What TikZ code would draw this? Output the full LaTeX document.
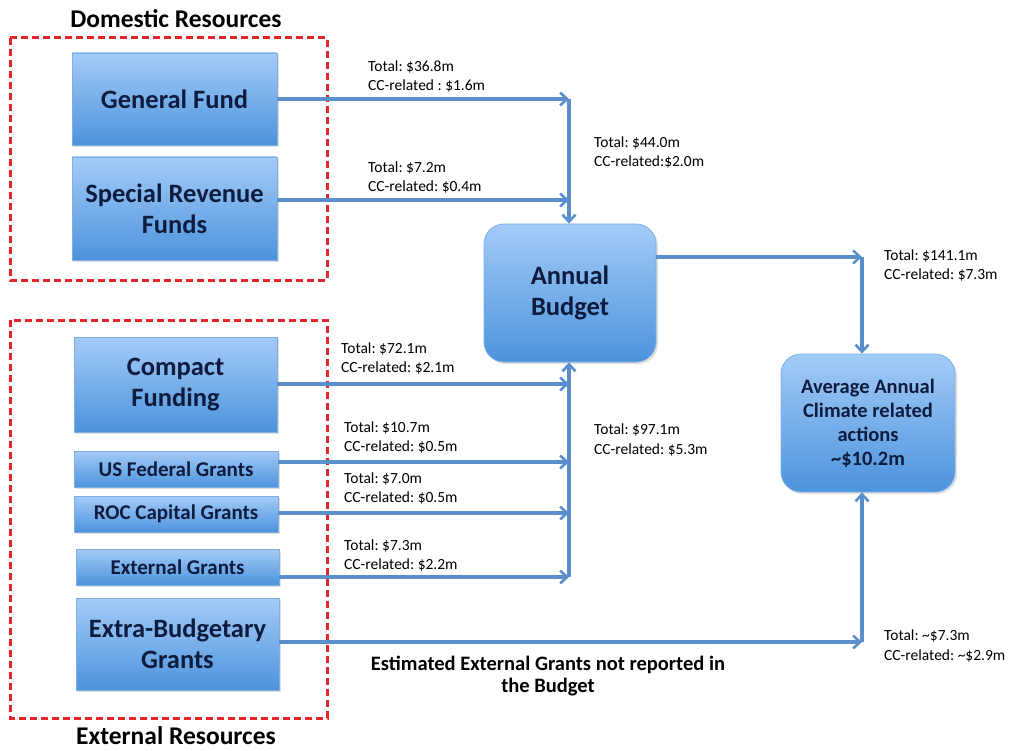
\documentclass[tikz,border=0pt]{standalone}
\usepackage{fontspec}
\setmainfont{Carlito}
\usetikzlibrary{arrows.meta,shadows}
\definecolor{arr}{HTML}{5B8FCB}
\definecolor{boxtop}{HTML}{A4CBF7}
\definecolor{boxbot}{HTML}{4C93DD}
\definecolor{boxline}{HTML}{7FAEE0}
\definecolor{txt}{HTML}{0D1C3E}
\definecolor{dred}{HTML}{E5252A}
\frenchspacing
\begin{document}
\begin{tikzpicture}[x=1pt,y=-1pt,
  fundbox/.style={draw=boxline, line width=0.8pt, top color=boxtop, bottom color=boxbot,
    text=txt, align=center, inner sep=0pt,
    drop shadow={opacity=0.25, shadow xshift=2pt, shadow yshift=-2pt}},
  bigtxt/.style={font=\bfseries\fontsize{26.5}{31}\selectfont},
  smalltxt/.style={font=\bfseries\fontsize{21}{24}\selectfont},
  hubbox/.style={fundbox, rounded corners=20pt},
  group/.style={draw=dred, line width=3pt, dash pattern=on 7pt off 4pt},
  title/.style={font=\bfseries\fontsize{25.5}{30}\selectfont, text=black},
  lbl/.style={anchor=west, align=left, inner sep=0pt, font=\fontsize{15.5}{19.5}\selectfont, text=black},
  flow/.style={draw=arr, line width=3.2pt, -{Straight Barb[length=7pt,width=13pt,line width=2.6pt]}}
]
\useasboundingbox (0,0) rectangle (1014,751);

% groups
\draw[group] (10,38) rectangle (327,280);
\draw[group] (10,320) rectangle (327,718);
\node[title] (tdom) at (176,19) {Domestic Resources};
\node[title] (text) at (176,736) {External Resources};

% source boxes
\node[fundbox, bigtxt, minimum width=205pt, minimum height=92pt] (gf) at (174.5,99) {General Fund};
\node[fundbox, bigtxt, minimum width=205pt, minimum height=103pt] (srf) at (174.5,208.5) {Special Revenue\\Funds};
\node[fundbox, bigtxt, minimum width=203pt, minimum height=95pt] (cf) at (175.5,384.5) {Compact\\Funding};
\node[fundbox, smalltxt, minimum width=204pt, minimum height=36pt] (us) at (176,469) {US Federal Grants};
\node[fundbox, smalltxt, minimum width=204pt, minimum height=36pt] (roc) at (176,514) {ROC Capital Grants};
\node[fundbox, smalltxt, minimum width=203pt, minimum height=36pt] (eg) at (177.5,567) {External Grants};
\node[fundbox, bigtxt, minimum width=203pt, minimum height=92pt] (ebg) at (177.5,644) {Extra-Budgetary\\Grants};

% hubs
\node[hubbox, bigtxt, minimum width=172pt, minimum height=138pt] (ab) at (570,293) {Annual\\Budget};
\node[hubbox, font=\bfseries\fontsize{20.5}{24}\selectfont, minimum width=174pt, minimum height=138pt] (avg) at (868,423) {Average Annual\\Climate related\\actions\\\textasciitilde\$10.2m};

% junctions
\coordinate (j1) at (569,99);
\coordinate (j2) at (569,200);
\coordinate (j3) at (569,384);
\coordinate (j4) at (569,462);
\coordinate (j5) at (569,513);
\coordinate (j6) at (569,577);
\coordinate (k1) at (862,257);
\coordinate (k2) at (862,642);

% upper flows
\draw[flow] (gf.east |- j1) -- (j1);
\draw[flow] (srf.east |- j2) -- (j2);
\draw[flow] (j1) -- (ab.north -| j1);

% lower flows
\draw[flow] (cf.east |- j3) -- (j3);
\draw[flow] (us.east |- j4) -- (j4);
\draw[flow] (roc.east |- j5) -- (j5);
\draw[flow] (eg.east |- j6) -- (j6);
\draw[flow] (j6) -- (ab.south -| j6);

% right side
\draw[flow] (ab.east |- k1) -- (k1);
\draw[flow] (k1) -- (avg.north -| k1);
\draw[flow] (ebg.east |- k2) -- (k2);
\draw[flow] (k2) -- (avg.south -| k2);

% labels
\node[lbl] (l1) at (368,76.5) {Total: \$36.8m\\CC-related : \$1.6m};
\node[lbl] (l2) at (368,177.5) {Total: \$7.2m\\CC-related: \$0.4m};
\node[lbl] (l3) at (594,152.5) {Total: \$44.0m\\CC-related:\$2.0m};
\node[lbl] (l4) at (341,358.5) {Total: \$72.1m\\CC-related: \$2.1m};
\node[lbl] (l5) at (344,437.5) {Total: \$10.7m\\CC-related: \$0.5m};
\node[lbl] (l6) at (344,488.5) {Total: \$7.0m\\CC-related: \$0.5m};
\node[lbl] (l7) at (344,555.5) {Total: \$7.3m\\CC-related: \$2.2m};
\node[lbl] (l8) at (594,440) {Total: \$97.1m\\CC-related: \$5.3m};
\node[lbl] (l9) at (884,265.5) {Total: \$141.1m\\CC-related: \$7.3m};
\node[lbl] (l10) at (884,646) {Total: \textasciitilde\$7.3m\\CC-related: \textasciitilde\$2.9m};
\node[align=center, inner sep=0pt, font=\bfseries\fontsize{20.5}{22}\selectfont] (est) at (548,676) {Estimated External Grants not reported in\\the Budget};
\end{tikzpicture}
\end{document}
